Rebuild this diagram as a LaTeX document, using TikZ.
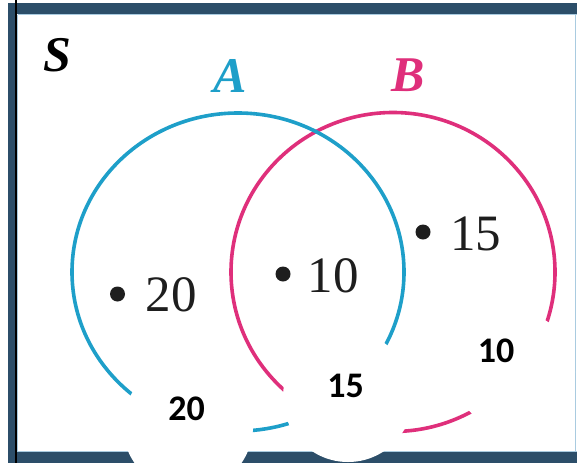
\documentclass[tikz,border=0pt]{standalone}
\usepackage{fontspec}
\setmainfont{Liberation Serif}
\newfontfamily\boldsans{Carlito}
\definecolor{framec}{HTML}{2C4E69}
\definecolor{haloc}{HTML}{A9CBE0}
\definecolor{cyanc}{HTML}{1E9FC9}
\definecolor{magc}{HTML}{DF2F7B}
\definecolor{inkc}{HTML}{1E1E1E}
\tikzset{
  setline/.style={line width=3.6pt},
  setlabel/.style={font=\fontsize{50}{60}\selectfont\bfseries\itshape, inner sep=0pt, anchor=base},
  dotmark/.style={circle, fill=inkc, inner sep=0pt, minimum size=15pt},
  numlabel/.style={font=\fontsize{51}{60}\selectfont, text=inkc, inner sep=0pt, anchor=base},
  bignum/.style={font=\boldsans\bfseries\fontsize{36}{40}\selectfont, inner sep=0pt, anchor=base},
  whitedisk/.style={fill=white, draw=none},
  halo/.style={draw=haloc, line width=1pt}
}
\begin{document}
\begin{tikzpicture}[x=1pt,y=-1pt]
\useasboundingbox (0,0) rectangle (577,463);
\fill[white] (0,0) rectangle (577,463);
\fill[framec] (8,3) rectangle (577,14);
\fill[framec] (8,3) rectangle (17,463);
\fill[framec] (8,452) rectangle (577,463);
\draw[halo] (17.5,14.5) -- (577,14.5);
\draw[halo] (17.5,14.5) -- (17.5,451.5);
\draw[halo] (17.5,451.5) -- (577,451.5);
\draw[halo] (575.5,14.5) -- (575.5,451.5);
\draw[black, line width=1.5pt] (16,0) -- (16,463);
\draw[setline, magc] (393,272) ellipse [x radius=162pt, y radius=159.5pt];
\draw[setline, cyanc] (238,272) ellipse [x radius=166pt, y radius=159pt];
\node[setlabel, text=black] (S) at (57.5,71) {S};
\node[setlabel, text=cyanc] (A) at (230.5,92) {A};
\node[setlabel, text=magc] (B) at (408.5,91) {B};
\node[dotmark] (d20) at (117.5,294) {};
\node[numlabel] (n20) at (171,311) {20};
\node[dotmark] (d10) at (283,274) {};
\node[numlabel] (n10) at (333,292) {10};
\node[dotmark] (d15) at (423,232) {};
\node[numlabel] (n15) at (475.5,250) {15};
\fill[whitedisk] (188,426) circle [radius=65pt];
\fill[whitedisk] (348,397) circle [radius=65pt];
\fill[whitedisk] (515,372) circle [radius=60pt];
\node[bignum] (b20) at (186.5,420) {20};
\node[bignum] (b15) at (345.5,397) {15};
\node[bignum] (b10) at (496,362) {10};
\end{tikzpicture}
\end{document}
